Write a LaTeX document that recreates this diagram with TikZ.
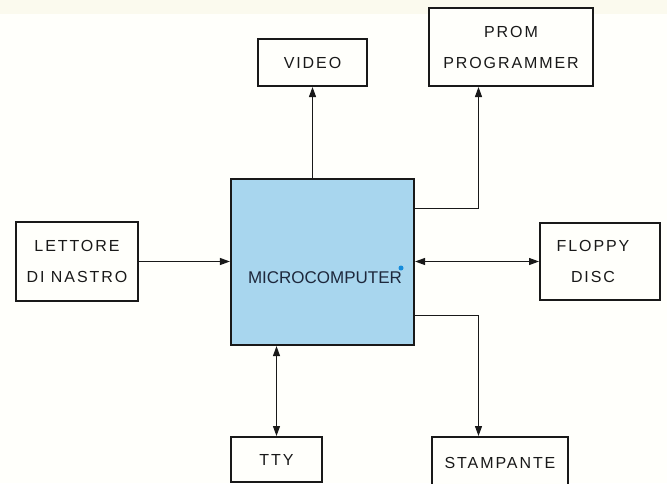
\documentclass[tikz,border=0pt]{standalone}
\usepackage{fontspec}
\setmainfont{Liberation Sans}
\newfontfamily\spcfont[LetterSpace=12]{Liberation Sans}
\usetikzlibrary{arrows.meta}
\definecolor{paper}{RGB}{255,255,251}
\definecolor{cream}{RGB}{251,250,238}
\definecolor{cpu}{RGB}{168,214,238}
\definecolor{ink}{RGB}{25,25,25}
\definecolor{cputext}{RGB}{30,40,60}
\definecolor{dotblue}{RGB}{20,140,220}
\tikzset{
  box/.style={draw=ink, line width=2pt, fill=paper, inner sep=0pt, align=center,
    font=\spcfont\fontsize{16}{31}\selectfont, text=ink},
  conn/.style={draw=ink, line width=1.2pt},
  tip/.style={Triangle[length=10pt,width=7pt]},
  arr/.style={conn, -{Triangle[length=10pt,width=7pt]}},
  dbl/.style={conn, {Triangle[length=10pt,width=7pt]}-{Triangle[length=10pt,width=7pt]}}
}
\begin{document}
\begin{tikzpicture}[x=1pt,y=-1pt]
\useasboundingbox (0,0) rectangle (667,483);
\fill[paper] (0,0) rectangle (667,483);
\fill[cream] (0,0) rectangle (667,14);
% nodes
\node[box, fill=cpu, line width=2.2pt, minimum width=183pt, minimum height=166pt] (micro) at (322.5,262) {};
\node[font=\fontsize{17}{20}\selectfont, text=cputext] (microtxt) at (325,278) {MICROCOMPUTER};
\node[box, minimum width=109pt, minimum height=47pt] (video) at (312.5,62.5) {VIDEO};
\node[box, minimum width=164pt, minimum height=78pt] (prom) at (511,47) {PROM\\PROGRAMMER};
\node[box, minimum width=122pt, minimum height=79pt] (lettore) at (77,261.5) {LETTORE\\DI NASTRO};
\node[box, minimum width=120pt, minimum height=77pt] (floppy) at (600,261.5) {\hspace*{-14pt}FLOPPY\\\hspace*{-14pt}DISC};
\node[box, minimum width=136pt, minimum height=51pt] (stamp) at (500,462.5) {STAMPANTE};
\node[box, minimum width=91pt, minimum height=45pt] (tty) at (276.5,459.5) {TTY};
\fill[dotblue] (401,268) circle (2.5pt);
% connectors
\draw[arr] (lettore.east) -- (micro.west |- lettore.east);
\draw[arr] (micro.north -| video.south) -- (video.south);
\draw[arr] (micro.east |- 0,208.5) -| ([xshift=50.5pt]prom.south west);
\draw[dbl] (micro.east |- floppy.west) -- (floppy.west);
\draw[arr] (micro.east |- 0,315.5) -| ([xshift=47.5pt]stamp.north west);
\draw[dbl] (micro.south -| tty.north) -- (tty.north);
\end{tikzpicture}
\end{document}
